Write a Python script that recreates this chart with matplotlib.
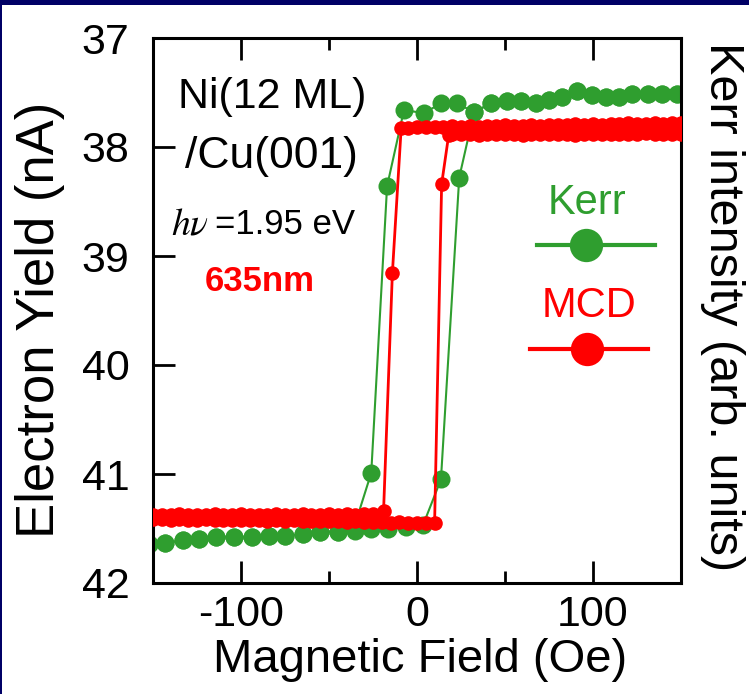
import matplotlib
matplotlib.use("Agg")
import matplotlib.pyplot as plt
from matplotlib.patches import Rectangle
from matplotlib.lines import Line2D

plt.rcParams['font.family'] = ['Liberation Sans', 'DejaVu Sans']

# Kerr loop (green): descending and ascending field sweeps
kerr_field_down = [148, 139.4, 131, 122.3, 114.8, 107.2, 99.6, 91, 82.6, 75, 67.4,
                   58.9, 51.3, 41.9, 32.4, 22.8, 13.4, 4, -7.4, -17, -26, -34,
                   -45, -55, -65, -75, -84, -94, -104, -114, -124, -133, -143, -152]
kerr_down = [37.51, 37.51, 37.51, 37.51, 37.54, 37.54, 37.52, 37.49, 37.54, 37.57, 37.60,
             37.58, 37.58, 37.60, 37.68, 37.60, 37.60, 37.69, 37.66, 38.36, 40.99, 41.40,
             41.53, 41.53, 41.55, 41.57, 41.57, 41.58, 41.58, 41.58, 41.60, 41.61, 41.63, 41.64]
kerr_field_up = [-152, -143, -133, -124, -114, -104, -94, -84, -75, -65, -55, -45, -35,
                 -26, -16.5, -6.4, 3.4, 13.6, 24, 32.4, 41.9, 51.3, 58.9, 67.4, 75,
                 82.6, 91, 99.6, 107.2, 114.8, 122.3, 131, 139.4, 148]
kerr_up = [41.64, 41.63, 41.61, 41.60, 41.58, 41.58, 41.58, 41.57, 41.57, 41.55, 41.53, 41.53, 41.52,
           41.50, 41.50, 41.49, 41.47, 41.05, 38.28, 37.68, 37.60, 37.58, 37.58, 37.60, 37.57,
           37.54, 37.49, 37.52, 37.54, 37.54, 37.51, 37.51, 37.51, 37.51]

# MCD loop (red): descending and ascending field sweeps
mcd_field_down = [150, 145, 140, 135, 130, 125, 120, 115, 110, 105, 100, 95, 90, 85, 80,
                  75, 70, 65, 60, 55, 50, 45, 40, 35, 30, 25, 20, 15, 10, 5, 0, -5, -9,
                  -14, -19, -25, -30, -35, -40, -45, -50, -55, -60, -65, -70, -75, -80,
                  -85, -90, -95, -100, -105, -110, -115, -120, -125, -130, -135, -140,
                  -145, -150]
mcd_down = [37.78, 37.78, 37.79, 37.78, 37.79, 37.79, 37.78, 37.79, 37.79, 37.80, 37.79,
            37.80, 37.79, 37.80, 37.80, 37.80, 37.81, 37.80, 37.81, 37.81, 37.80, 37.81,
            37.81, 37.82, 37.81, 37.82, 37.81, 37.82, 37.82, 37.82, 37.82, 37.83, 37.83,
            39.16, 41.34, 41.37, 41.37, 41.38, 41.37, 41.38, 41.37, 41.38, 41.38, 41.37,
            41.38, 41.38, 41.37, 41.38, 41.38, 41.38, 41.37, 41.38, 41.38, 41.37, 41.38,
            41.38, 41.38, 41.37, 41.38, 41.38, 41.38]
mcd_field_up = [-150, -145, -140, -135, -130, -125, -120, -115, -110, -105, -100, -95, -90,
                -85, -80, -75, -70, -65, -60, -55, -50, -45, -40, -35, -30, -25, -20, -15,
                -10, -5, 0, 5, 10, 14, 18, 20, 25, 30, 35, 40, 45, 50, 55, 60, 65, 70, 75,
                80, 85, 90, 95, 100, 105, 110, 115, 120, 125, 130, 135, 140, 145, 150]
mcd_up = [41.41, 41.41, 41.42, 41.41, 41.42, 41.42, 41.41, 41.42, 41.42, 41.42, 41.42, 41.42,
          41.42, 41.43, 41.42, 41.43, 41.42, 41.43, 41.43, 41.43, 41.43, 41.43, 41.44, 41.43,
          41.44, 41.44, 41.44, 41.45, 41.44, 41.45, 41.45, 41.45, 41.45, 38.34, 37.89, 37.88,
          37.88, 37.88, 37.89, 37.88, 37.88, 37.88, 37.88, 37.89, 37.88, 37.88, 37.88, 37.88,
          37.88, 37.89, 37.88, 37.88, 37.88, 37.88, 37.88, 37.88, 37.88, 37.87, 37.88, 37.88,
          37.88, 37.88]

x_major = [-100, 0, 100]
x_minor = [-50, 50]
y_ticks = [37, 38, 39, 40, 41, 42]

GREEN = '#2f9e2f'
RED = '#ff0000'
NAVY = '#000066'

W, H = 749, 694
fig = plt.figure(figsize=(W / 100, H / 100), dpi=100)
fig.patch.set_facecolor('white')

# slide frame
fig.add_artist(Rectangle((0, 1 - 5 / H), 1, 5 / H, transform=fig.transFigure,
                         facecolor=NAVY, edgecolor='none'))
fig.add_artist(Rectangle((0, 0), 2 / W, 1, transform=fig.transFigure,
                         facecolor=NAVY, edgecolor='none'))

ax = fig.add_axes([153 / W, 1 - 583 / H, (681 - 153) / W, (583 - 38) / H])

ax.plot(kerr_field_down, kerr_down, '-o', color=GREEN, lw=1.5, ms=13, mec='none', zorder=2)
ax.plot(kerr_field_up, kerr_up, '-o', color=GREEN, lw=1.5, ms=13, mec='none', zorder=2)
ax.plot(mcd_field_down, mcd_down, '-o', color=RED, lw=2, ms=10.5, mec='none', zorder=3)
ax.plot(mcd_field_up, mcd_up, '-o', color=RED, lw=2, ms=10.5, mec='none', zorder=3)

ax.set_xlim(-150, 150)
ax.set_ylim(42, 37)
ax.set_xticks(x_major)
ax.set_xticks(x_minor, minor=True)
ax.set_xticklabels(['-100', '0', '100'])
ax.set_yticks(y_ticks)
ax.set_yticklabels([str(v) for v in y_ticks])

for s in ax.spines.values():
    s.set_linewidth(2.2)
ax.tick_params(axis='x', which='major', direction='in', top=True, length=16, width=2,
               labelsize=31, pad=9)
ax.tick_params(axis='x', which='minor', direction='in', top=True, length=8.5, width=2)
ax.tick_params(axis='y', which='major', direction='in', right=False, length=16, width=2,
               labelsize=31, pad=17)

# axis titles
fig.text(420 / W, 1 - 660 / H, 'Magnetic Field (Oe)', ha='center', va='center', fontsize=34)
fig.text(40 / W, 1 - 320 / H, 'Electron Yield (nA)', ha='center', va='center',
         rotation=90, fontsize=38)
fig.text(722 / W, 1 - 307 / H, 'Kerr intensity (arb. units)', ha='center', va='center',
         rotation=-90, fontsize=35)

# sample annotations
ax.text(0.225, 0.892, 'Ni(12 ML)', transform=ax.transAxes, ha='center', va='center', fontsize=31)
ax.text(0.225, 0.782, '/Cu(001)', transform=ax.transAxes, ha='center', va='center', fontsize=32)
ax.text(0.07, 0.657, r'$h\nu$', transform=ax.transAxes, ha='center', va='center', fontsize=27,
        family='Liberation Serif', math_fontfamily='stix')
ax.text(0.118, 0.657, '=1.95 eV', transform=ax.transAxes, ha='left', va='center', fontsize=25)
ax.text(0.203, 0.554, '635nm', transform=ax.transAxes, ha='center', va='center', fontsize=25,
        fontweight='bold', color=RED)

# legend keys
ax.text(0.822, 0.697, 'Kerr', transform=ax.transAxes, ha='center', va='center', fontsize=30, color=GREEN)
ax.add_line(Line2D([0.727, 0.951], [0.620, 0.620], transform=ax.transAxes, color=GREEN, lw=3))
ax.add_line(Line2D([0.820], [0.620], transform=ax.transAxes, color=GREEN, marker='o', ms=24, mec='none'))
ax.text(0.826, 0.508, 'MCD', transform=ax.transAxes, ha='center', va='center', fontsize=30, color=RED)
ax.add_line(Line2D([0.714, 0.9375], [0.429, 0.429], transform=ax.transAxes, color=RED, lw=3))
ax.add_line(Line2D([0.822], [0.429], transform=ax.transAxes, color=RED, marker='o', ms=24, mec='none'))

fig.savefig('out.png', dpi=100, facecolor='white')
